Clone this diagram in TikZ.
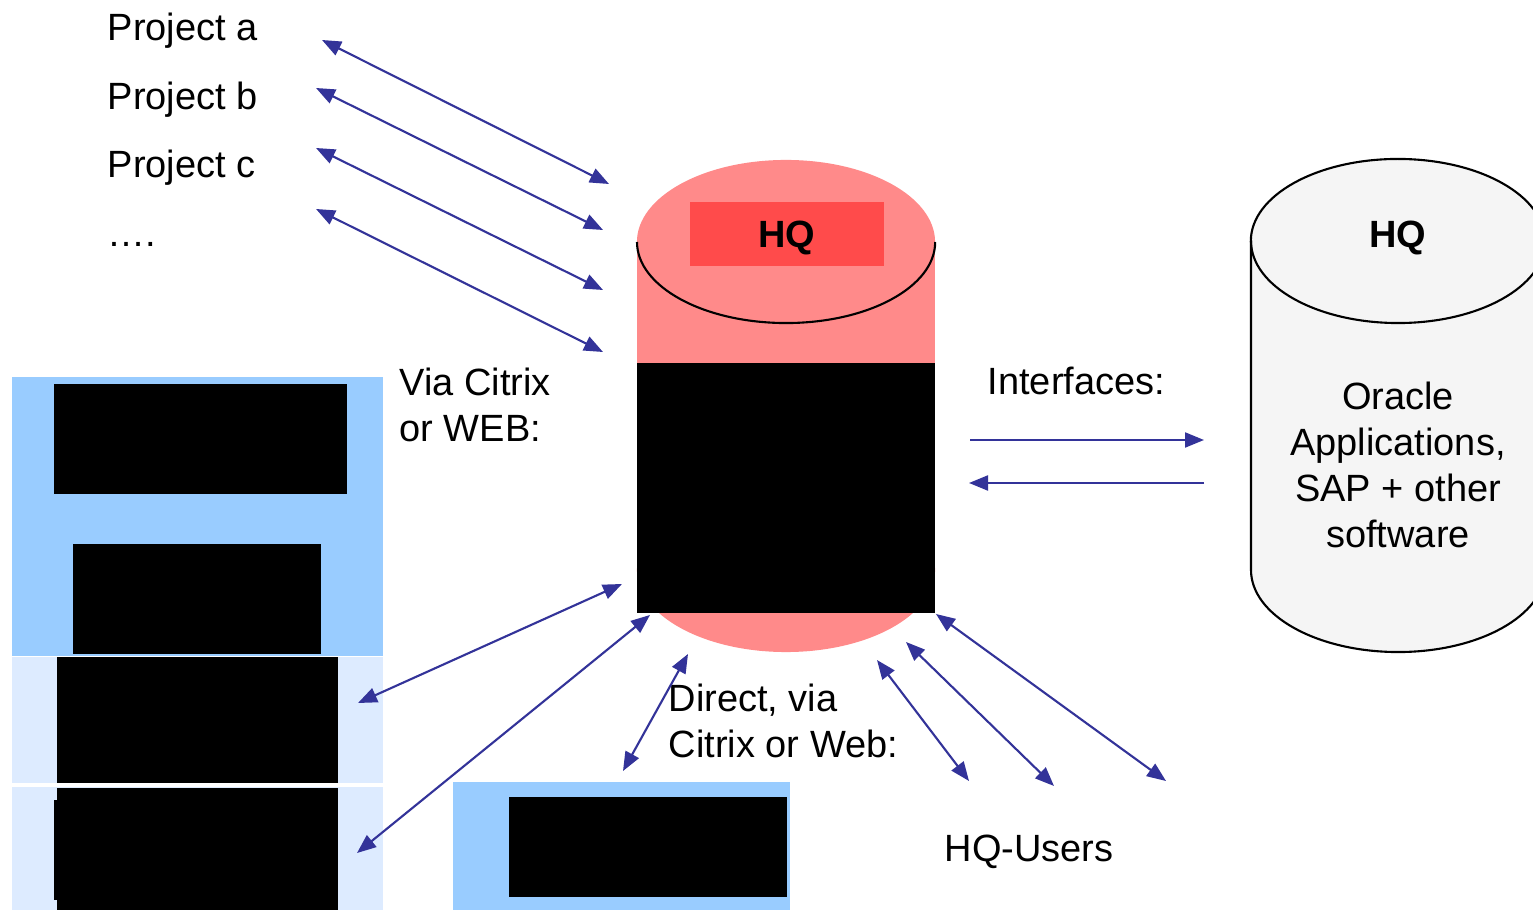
\documentclass[tikz,border=0pt]{standalone}
\usepackage{fontspec}
\setmainfont{Liberation Sans}
\usetikzlibrary{arrows.meta}
\definecolor{dbpink}{HTML}{FF8A8A}
\definecolor{dbred}{HTML}{FF4B4B}
\definecolor{panelblue}{HTML}{99CCFF}
\definecolor{panelpale}{HTML}{DDEBFF}
\definecolor{linkblue}{HTML}{333399}
\definecolor{dbgray}{HTML}{F5F5F5}
\tikzset{
  lbl/.style={font=\fontsize{10.8}{13}\selectfont, inner sep=0pt},
  bold lbl/.style={lbl, font=\fontsize{10.8}{13}\selectfont\bfseries},
  link/.style={draw=linkblue, line width=0.6pt,
    {Triangle[length=0.19cm,width=0.15cm]}-{Triangle[length=0.19cm,width=0.15cm]}},
  onelink/.style={draw=linkblue, line width=0.6pt, -{Triangle[length=0.19cm,width=0.15cm]}},
  hidden/.style={fill=black, draw=none},
}
\begin{document}
\begin{tikzpicture}[x=0.01cm, y=-0.01cm]
\clip (0,0) rectangle (1533,910);
\fill[white] (0,0) rectangle (1533,910);

% ---- left client panels ----
\fill[panelblue] (12,377) rectangle (383,656);
\fill[panelpale] (12,657) rectangle (383,783);
\fill[panelpale] (12,787) rectangle (383,910);
\fill[hidden] (54,384) rectangle (347,494);
\fill[hidden] (73,544) rectangle (321,654);
\fill[hidden] (57,657) rectangle (338,783);
\fill[hidden] (57,788) rectangle (338,910);
\fill[hidden] (54,800) rectangle (58,900);

% ---- bottom client panel ----
\fill[panelblue] (453,782) rectangle (790,910);
\fill[hidden] (509,797) rectangle (787,897);

% ---- central HQ database ----
\fill[dbpink] (786,242) ellipse [x radius=1.49cm, y radius=0.82cm];
\fill[dbpink] (786,570) ellipse [x radius=1.49cm, y radius=0.82cm];
\fill[dbpink] (637,242) rectangle (935,570);
\draw[black, line width=0.6pt] (637,242) arc[start angle=180, end angle=360, x radius=1.49cm, y radius=0.81cm];
\node[fill=dbred, minimum width=1.94cm, minimum height=0.64cm, inner sep=0pt] (hqbox) at (787,234) {};
\node[bold lbl] (hqmain) at (787,238) {HQ};
\fill[hidden] (637,363) rectangle (935,613);

% ---- HQ applications database ----
\filldraw[fill=dbgray, draw=black, line width=0.6pt]
  (1251,241) -- (1251,570)
  arc[start angle=180, end angle=360, x radius=1.47cm, y radius=0.82cm]
  -- (1545,241)
  arc[start angle=0, end angle=180, x radius=1.47cm, y radius=0.82cm] -- cycle;
\draw[black, line width=0.6pt] (1251,241) arc[start angle=180, end angle=360, x radius=1.47cm, y radius=0.82cm];
\node[bold lbl] (hqapps) at (1398,238) {HQ};
\node[lbl, align=center] (apps) at (1398,465) {Oracle\\Applications,\\SAP + other\\software};

% ---- labels ----
\node[lbl, anchor=base west] (pa) at (107,41) {Project a};
\node[lbl, anchor=base west] (pb) at (107,110) {Project b};
\node[lbl, anchor=base west] (pc) at (107,178) {Project c};
\node[lbl, anchor=base west] (pd) at (107,247) {….};
\node[lbl, anchor=west, align=left] (via) at (399,405) {Via Citrix\\or WEB:};
\node[lbl, anchor=west] (ifc) at (987,381) {Interfaces:};
\node[lbl, anchor=west, align=left] (direct) at (668,721) {Direct, via\\Citrix or Web:};
\node[lbl, anchor=west] (users) at (944,852) {HQ-Users};

% ---- connector end points ----
\coordinate (pa1) at (322,40);  \coordinate (pa2) at (609,184);
\coordinate (pb1) at (316,88);  \coordinate (pb2) at (603,230);
\coordinate (pc1) at (316,148); \coordinate (pc2) at (603,290);
\coordinate (pd1) at (316,209); \coordinate (pd2) at (603,352);
\coordinate (l1a) at (358,703); \coordinate (l1b) at (622,584);
\coordinate (l2a) at (357,853); \coordinate (l2b) at (650,615);
\coordinate (b1a) at (623,771); \coordinate (b1b) at (688,654);
\coordinate (u1a) at (877,660); \coordinate (u1b) at (969,781);
\coordinate (u2a) at (906,642); \coordinate (u2b) at (1054,786);
\coordinate (u3a) at (936,614); \coordinate (u3b) at (1166,781);
\coordinate (i1a) at (970,440); \coordinate (i1b) at (1204,440);
\coordinate (i2a) at (1204,483); \coordinate (i2b) at (969,483);

% ---- connectors ----
\draw[link] (pa1) -- (pa2);
\draw[link] (pb1) -- (pb2);
\draw[link] (pc1) -- (pc2);
\draw[link] (pd1) -- (pd2);
\draw[link] (l1a) -- (l1b);
\draw[link] (l2a) -- (l2b);
\draw[link] (b1a) -- (b1b);
\draw[link] (u1a) -- (u1b);
\draw[link] (u2a) -- (u2b);
\draw[link] (u3a) -- (u3b);
\draw[onelink] (i1a) -- (i1b);
\draw[onelink] (i2a) -- (i2b);
\end{tikzpicture}
\end{document}
